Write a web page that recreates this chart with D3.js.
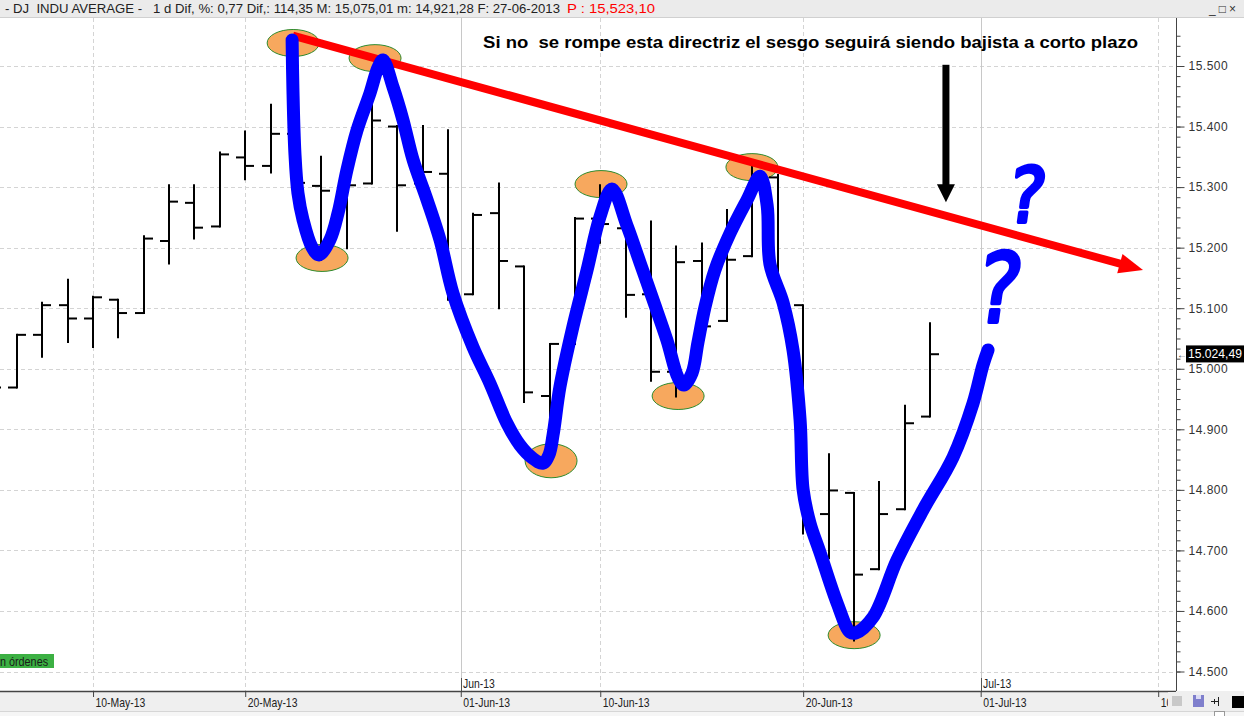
<!DOCTYPE html>
<html>
<head>
<meta charset="utf-8">
<script src="https://cdn.jsdelivr.net/npm/d3@7"></script>
<style>
body{margin:0;background:#fff;}
svg{display:block;font-family:"Liberation Sans",Arial,sans-serif;}
</style>
</head>
<body>
<svg id="chart" width="1244" height="716"></svg>
<script>
// ---- data ----
var dates  = ["06-May","07-May","08-May","09-May","10-May","13-May","14-May","15-May","16-May","17-May",
              "20-May","21-May","22-May","23-May","24-May","28-May","29-May","30-May","31-May",
              "03-Jun","04-Jun","05-Jun","06-Jun","07-Jun","10-Jun","11-Jun","12-Jun","13-Jun","14-Jun",
              "17-Jun","18-Jun","19-Jun","20-Jun","21-Jun","24-Jun","25-Jun","26-Jun","27-Jun"];
var opens  = [14973,14969,15056,15105,15083,15114,15092,15211,15274,15235,
              15349,15335,15388,15302,15291,15306,15400,15306,15322,
              15123,15257,15169,14955,15041,15248,15232,15123,14995,15178,
              15079,15186,15316,15105,14760,14795,14669,14768,14921];
var highs  = [14990,15056,15109,15147,15119,15114,15219,15303,15303,15357,
              15392,15436,15542,15350,15305,15490,15401,15401,15394,
              15256,15306,15169,15041,15249,15303,15232,15243,15202,15207,
              15262,15334,15320,15105,14859,14795,14813,14939,15075];
var lows   = [14940,14969,15020,15044,15036,15052,15092,15174,15215,15235,
              15313,15324,15265,15180,15199,15306,15228,15290,15114,
              15123,15100,14945,14844,15041,15208,15086,14980,14954,15054,
              15079,15186,15112,14728,14687,14551,14669,14768,14921];
var closes = [14969,15056,15105,15083,15118,15092,15215,15276,15233,15354,
              15335,15388,15307,15294,15303,15410,15303,15325,15116,
              15254,15178,14961,15041,15248,15239,15122,14995,15176,15070,
              15180,15318,15112,14758,14799,14660,14760,14910,15024];

var yTicks      = [14500,14600,14700,14800,14900,15000,15100,15200,15300,15400,15500];
var yTickLabels = ["14.500","14.600","14.700","14.800","14.900","15.000","15.100","15.200","15.300","15.400","15.500"];
var dateTicks      = [4,10,18.5,24,32,39,46];
var dateTickLabels = ["10-May-13","20-May-13","01-Jun-13","10-Jun-13","20-Jun-13","01-Jul-13","10-Jul-13"];
var monthTicks  = [18.5,39];
var monthLabels = ["Jun-13","Jul-13"];
var lastPrice = 15024.49;
var lastLabel = "15.024,49";

// hand drawn annotations, in (bar index, price)
var blueIdx = [11.85,11.88,11.96,12.08,12.28,12.63,12.91,13.34,13.66,14.01,14.41,14.92,15.24,15.43,15.83,16.22,16.62,17.17,
               17.68,18.19,18.98,19.65,20.32,20.83,21.31,21.74,21.98,22.14,22.41,22.92,23.48,23.99,24.46,25.05,25.57,26.08,
               26.63,27.07,27.30,27.62,27.85,28.13,28.52,29.12,29.79,30.30,30.58,30.69,31.21,31.60,31.88,32.00,32.27,32.67,
               33.34,33.85,34.09,34.76,35.70,36.73,37.91,38.70,39.09,39.29];
var blueVal = [15543,15465,15356,15290,15246,15201,15188,15213,15257,15328,15394,15455,15498,15510,15465,15411,15345,15279,
               15213,15125,15036,14976,14910,14874,14853,14844,14858,14891,14970,15069,15163,15251,15297,15237,15175,15114,
               15047,14985,14973,14993,15043,15102,15163,15224,15279,15318,15270,15173,15109,15031,14915,14800,14745,14696,
               14613,14565,14564,14590,14684,14767,14854,14943,15006,15031];
var ovalIdx = [11.89,15.12,13.03,24.03,29.98,22.06,27.07,34.01];
var ovalVal = [15538,15513,15183,15305,15333,14848,14955,14560];
var trendIdx = [11.88,45.40];
var trendVal = [15550,15163];
var arrowIdx = [37.63,37.63];
var arrowVal = [15502,15275];
var noteText = "Si no  se rompe esta directriz el sesgo seguirá siendo bajista a corto plazo";
var noteIdx = 19.38, noteVal = 15530;
var qIdx = [39.98,38.72];
var qVal = [15242,15077];

var headLeft  = "- DJ  INDU AVERAGE -   1 d Dif, %: 0,77 Dif,: 114,35 M: 15,075,01 m: 14,921,28 F: 27-06-2013";
var headRight = "P : 15,523,10";

// ---- layout ----
var W = 1244, H = 716;
var plotRight = 1176, plotTop = 18, plotBottom = 691;

var svg = d3.select("#chart");

var x = d3.scaleLinear().domain([0,46]).range([-8.4,1158.2]);
var y = d3.scaleLinear().domain([14500,15500]).range([671.5,66]);

function squeeze(sel,k){
	sel.each(function(){
		var w=this.getComputedTextLength();
		d3.select(this).attr("textLength",w*k).attr("lengthAdjust","spacingAndGlyphs");
	});
}

var defs = svg.append("defs");
defs.append("clipPath").attr("id","plotclip")
	.append("rect").attr("x",0).attr("y",plotTop).attr("width",plotRight).attr("height",plotBottom-plotTop);
defs.append("clipPath").attr("id","axisclip")
	.append("rect").attr("x",0).attr("y",plotBottom).attr("width",1168).attr("height",H-plotBottom);

// gridlines
var grid = svg.append("g").attr("clip-path","url(#plotclip)");
grid.selectAll(".hg").data(yTicks).enter().append("line")
	.attr("x1",0).attr("x2",plotRight)
	.attr("y1",function(d){return Math.round(y(d))+0.5;})
	.attr("y2",function(d){return Math.round(y(d))+0.5;})
	.attr("stroke","#d4d4d4").attr("stroke-dasharray","4,3");
grid.selectAll(".vg").data(dateTicks).enter().append("line")
	.attr("x1",function(d){return Math.round(x(d))+0.5;})
	.attr("x2",function(d){return Math.round(x(d))+0.5;})
	.attr("y1",plotTop).attr("y2",plotBottom)
	.attr("stroke",function(d){return monthTicks.indexOf(d)>=0 ? "#c8c8c8" : "#d4d4d4";})
	.attr("stroke-dasharray",function(d){return monthTicks.indexOf(d)>=0 ? null : "4,3";});

var plot = svg.append("g").attr("clip-path","url(#plotclip)");

// orange ovals
plot.selectAll(".oval").data(ovalIdx).enter().append("ellipse")
	.attr("cx",function(d){return x(d);})
	.attr("cy",function(d,i){return y(ovalVal[i]);})
	.attr("rx",26).attr("ry",function(d,i){return i==5 ? 17 : 13.5;})
	.attr("fill","#f7a85e").attr("stroke","#2e8b2e").attr("stroke-width",1);

// OHLC bars
var bars = plot.selectAll(".bar").data(dates).enter().append("g").attr("class","bar");
bars.append("line")
	.attr("x1",function(d,i){return Math.round(x(i));})
	.attr("x2",function(d,i){return Math.round(x(i));})
	.attr("y1",function(d,i){return y(highs[i])-1;})
	.attr("y2",function(d,i){return y(lows[i])+1;})
	.attr("stroke","#000").attr("stroke-width",2);
bars.append("line")
	.attr("x1",function(d,i){return Math.round(x(i))-9;})
	.attr("x2",function(d,i){return Math.round(x(i));})
	.attr("y1",function(d,i){return y(opens[i]);})
	.attr("y2",function(d,i){return y(opens[i]);})
	.attr("stroke","#000").attr("stroke-width",2);
bars.append("line")
	.attr("x1",function(d,i){return Math.round(x(i));})
	.attr("x2",function(d,i){return Math.round(x(i))+9;})
	.attr("y1",function(d,i){return y(closes[i]);})
	.attr("y2",function(d,i){return y(closes[i]);})
	.attr("stroke","#000").attr("stroke-width",2);

// red trend line with arrow head
var tx1=x(trendIdx[0]), ty1=y(trendVal[0]), tx2=x(trendIdx[1]), ty2=y(trendVal[1]);
var ang=Math.atan2(ty2-ty1,tx2-tx1), hl=24, hw=10;
var bx=tx2-hl*Math.cos(ang), by=ty2-hl*Math.sin(ang);
plot.append("line").attr("x1",tx1).attr("y1",ty1).attr("x2",bx+2*Math.cos(ang)).attr("y2",by+2*Math.sin(ang))
	.attr("stroke","#ff0000").attr("stroke-width",8);
plot.append("path")
	.attr("d","M"+tx2+","+ty2+"L"+(bx-hw*Math.sin(ang))+","+(by+hw*Math.cos(ang))+"L"+(bx+hw*Math.sin(ang))+","+(by-hw*Math.cos(ang))+"Z")
	.attr("fill","#ff0000");

// black arrow
var ax=x(arrowIdx[0]), ay1=y(arrowVal[0]), ay2=y(arrowVal[1]);
plot.append("line").attr("x1",ax).attr("x2",ax).attr("y1",ay1).attr("y2",ay2-14)
	.attr("stroke","#000").attr("stroke-width",7);
plot.append("path")
	.attr("d","M"+ax+","+ay2+"L"+(ax-9)+","+(ay2-18)+"L"+(ax+9)+","+(ay2-18)+"Z")
	.attr("fill","#000");

// blue hand drawn line
var blueLine = d3.line()
	.x(function(d){return x(d);})
	.y(function(d,i){return y(blueVal[i]);})
	.curve(d3.curveCatmullRom.alpha(0.5));
plot.append("path").attr("d",blueLine(blueIdx))
	.attr("fill","none").attr("stroke","#0000ff").attr("stroke-width",13)
	.attr("stroke-linecap","round").attr("stroke-linejoin","round");

// question marks
plot.selectAll(".q").data(qIdx).enter().append("text")
	.attr("transform",function(d,i){return "translate("+x(d)+","+y(qVal[i])+") skewX(-8) scale("+(i==0?0.9:0.85)+",1)";})
	.attr("font-family","DejaVu Sans").attr("font-weight","normal")
	.attr("font-size",function(d,i){return i==0 ? 76 : 96;})
	.attr("fill","#0000ff").attr("stroke","#0000ff").attr("stroke-width",4)
	.attr("stroke-linejoin","round")
	.text("?");

// note
plot.append("text").attr("x",x(noteIdx)).attr("y",y(noteVal))
	.attr("font-size",16).attr("font-weight","bold").attr("fill","#000")
	.attr("xml:space","preserve").style("white-space","pre")
	.attr("textLength",655).attr("lengthAdjust","spacingAndGlyphs")
	.text(noteText);

// green label bottom left
svg.append("rect").attr("x",0).attr("y",654).attr("width",54).attr("height",14).attr("fill","#3cb043");
svg.append("text").attr("x",0).attr("y",665.5).attr("font-size",12).attr("fill","#1a1a1a")
	.text("n órdenes").call(squeeze,0.9);

// month labels
svg.selectAll(".ml").data(monthTicks).enter().append("line")
	.attr("x1",function(d){return Math.round(x(d))+0.5;})
	.attr("x2",function(d){return Math.round(x(d))+0.5;})
	.attr("y1",678).attr("y2",plotBottom).attr("stroke","#555");
svg.selectAll(".mt").data(monthTicks).enter().append("text")
	.attr("x",function(d){return Math.round(x(d))+2;}).attr("y",688)
	.attr("font-size",13).attr("fill","#222")
	.text(function(d,i){return monthLabels[i];})
	.call(squeeze,0.8);

// bottom date axis
svg.append("rect").attr("x",0).attr("y",plotBottom).attr("width",W).attr("height",H-plotBottom).attr("fill","#efefef");
svg.append("line").attr("x1",0).attr("x2",W).attr("y1",711.5).attr("y2",711.5).attr("stroke","#d6d6d6");
svg.append("rect").attr("x",0).attr("y",712).attr("width",W).attr("height",4).attr("fill","#f6f6f6");
var xAxis = d3.axisBottom(x).tickValues(dateTicks).tickSize(6)
	.tickFormat(function(d,i){return dateTickLabels[i];});
var gx = svg.append("g").attr("clip-path","url(#axisclip)")
	.append("g").attr("transform","translate(0,"+plotBottom+")").call(xAxis);
gx.select(".domain").remove();
gx.selectAll(".tick line").attr("stroke","#444");
gx.selectAll(".tick text").attr("text-anchor","start").attr("x",2).attr("y",16).attr("dy",0)
	.attr("font-size",13).attr("font-family","Liberation Sans").attr("fill","#222")
	.call(squeeze,0.8);
svg.append("line").attr("x1",0).attr("x2",plotRight).attr("y1",plotBottom+0.5).attr("y2",plotBottom+0.5)
	.attr("stroke","#444").attr("stroke-width",1.5);

// right price axis
svg.append("rect").attr("x",plotRight).attr("y",plotTop).attr("width",W-plotRight).attr("height",plotBottom-plotTop).attr("fill","#fff");
var minorTicks = d3.range(14500,15560,100/6);
var gyMinor = svg.append("g").attr("transform","translate("+(plotRight+0.5)+",0)")
	.call(d3.axisRight(y).tickValues(minorTicks).tickSize(4).tickFormat(""));
gyMinor.select(".domain").remove();
gyMinor.selectAll(".tick line").attr("stroke","#444");
var gy = svg.append("g").attr("transform","translate("+(plotRight+0.5)+",0)")
	.call(d3.axisRight(y).tickValues(yTicks).tickSize(8).tickPadding(4)
	.tickFormat(function(d,i){return yTickLabels[i];}));
gy.select(".domain").remove();
gy.selectAll(".tick line").attr("stroke","#444");
gy.selectAll(".tick text").attr("font-size",12).attr("font-family","Liberation Sans").attr("fill","#333")
	.attr("letter-spacing",0.5);
svg.append("line").attr("x1",plotRight+0.5).attr("x2",plotRight+0.5).attr("y1",plotTop).attr("y2",plotBottom)
	.attr("stroke","#444");

// last price tag
svg.append("rect").attr("x",1186).attr("y",y(lastPrice)-8.5).attr("width",W-1186).attr("height",17).attr("fill","#000");
svg.append("text").attr("x",1188).attr("y",y(lastPrice)+4.5).attr("font-size",12).attr("fill","#fff")
	.attr("textLength",54).attr("lengthAdjust","spacingAndGlyphs").text(lastLabel);
svg.append("text").attr("x",1177).attr("y",y(lastPrice)+4).attr("font-size",10).attr("fill","#444").text("←");

// bottom right icon box
var ib = svg.append("g");
ib.append("rect").attr("x",1168).attr("y",692).attr("width",76).attr("height",19).attr("fill","#efefef");
ib.append("rect").attr("x",1172).attr("y",696).attr("width",10).attr("height",10).attr("fill","#c8c8c8");
ib.append("rect").attr("x",1193).attr("y",695).attr("width",11).attr("height",12).attr("fill","#7f7fcc");
ib.append("rect").attr("x",1196).attr("y",695).attr("width",5).attr("height",4).attr("fill","#dcdcf5");
ib.append("path").attr("d","M1211,701.5H1218M1218.5,697V706M1214.5,699V704")
	.attr("stroke","#222").attr("fill","none");
ib.append("rect").attr("x",1232).attr("y",696).attr("width",12).attr("height",12).attr("fill","#000");
ib.append("rect").attr("x",1214.5).attr("y",711.5).attr("width",10).attr("height",6).attr("fill","#fff").attr("stroke","#999");

// header bar
svg.append("rect").attr("x",0).attr("y",0).attr("width",W).attr("height",plotTop).attr("fill","#ebebeb");
svg.append("line").attr("x1",0).attr("x2",W).attr("y1",plotTop-0.5).attr("y2",plotTop-0.5).attr("stroke","#d0d0d0");
svg.append("text").attr("x",5).attr("y",13).attr("font-size",12).attr("fill","#222")
	.attr("xml:space","preserve").style("white-space","pre")
	.attr("textLength",555).attr("lengthAdjust","spacingAndGlyphs").text(headLeft);
svg.append("text").attr("x",567).attr("y",13).attr("font-size",12).attr("fill","#ff0000")
	.attr("textLength",88).attr("lengthAdjust","spacingAndGlyphs").text(headRight);
svg.append("text").attr("x",1209).attr("y",13).attr("font-size",12).attr("fill","#333")
	.attr("letter-spacing",3).text("_□×");
</script>
</body>
</html>
